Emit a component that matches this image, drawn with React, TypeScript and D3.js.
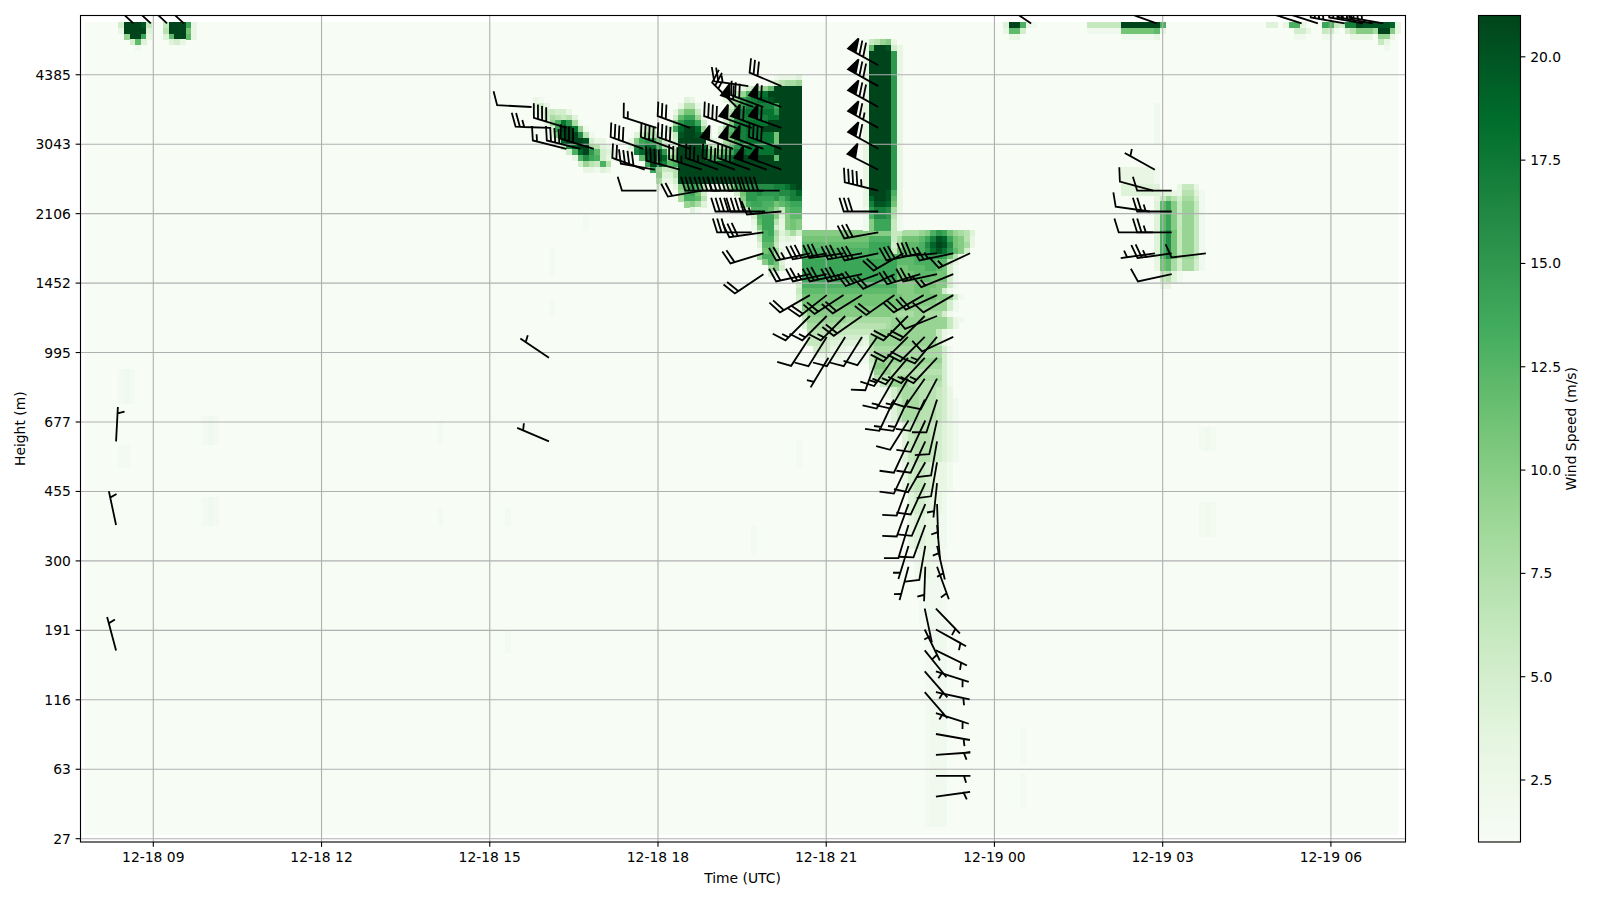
import React from "react";
import * as d3 from "d3";

// ---- axis labels ----
const heightTicks = ["27","63","116","191","300","455","677","995","1452","2106","3043","4385"];
const timeTicks = ["12-18 09","12-18 12","12-18 15","12-18 18","12-18 21","12-19 00","12-19 03","12-19 06"];
const colorTicks = [2.5,5,7.5,10,12.5,15,17.5,20];

// ---- wind speed (m/s): [firstRow, lastRow, firstStep, base-36 values; "x*n" repeats x; 1 means 1.5 m/s] ----
const topLeftSpeed = [
 [0,0,6,"5lllk6"],[0,0,14,"6llle3"],[1,1,6,"3llll4"],[1,1,14,"7lllb3"],[2,2,7,"9lle3"],[2,2,14,"4cllc3"],
 [3,3,8,"5c4"],[3,3,15,"453"],[4,4,9,"2"],
];
const topRightSpeed = [
 [0,0,164,"4lld32"],[1,1,164,"3cc5"],[2,2,165,"33"],
 [0,0,179,"6*6,l*7,d"],[1,1,179,"2*6,b*6,c3"],[2,2,185,"2*6,3"],
 [0,0,211,"44.3dd3"],[1,1,216,"553"],[2,2,216,"22"],
 [0,0,221,"ed65hhlk"],[0,0,229,"kkkkj3"],[0,0,233,"j3"],
 [1,1,221,"652.57aaa8lla3"],[2,2,221,"22...3333.993"],[3,3,231,"63"],[4,4,232,"2"],
];
const evening15hSpeed = [
 [13,13,80,"32"],[14,14,80,"453"],[15,15,80,"2456553"],[16,16,81,"3587674"],[17,17,82,"39dif82"],
 [18,18,83,"5elli92"],[19,19,83,"4bkllg72"],[20,20,84,"5jlllk533"],[21,21,85,"6gjll8775"],
 [22,22,86,"5djlfce73"],[23,23,87,"3dgedg83"],[24,24,88,"5976d7"],[25,25,89,"33243"],
];
const clusterSpeed = [
 [9,9,123,"23334"],[10,10,122,"357889"],[11,11,117,"35689cl*5"],[12,12,115,"369dghil*6"],
 [13,13,114,"369eghijkl*5"],[13,13,107,"43"],[14,14,115,"5afh*5,el*4"],[14,14,106,"3773"],
 [15,15,115,"7dhi*5,fl*4"],[15,15,105,"38bb6"],[16,16,114,"49fh*5,iil*4"],[16,16,105,"5cee93"],
 [17,17,114,"5aghi*4,l*6"],[17,17,105,"9fhhe5"],[18,18,113,"48cghiiil*7"],[18,18,99,"466"],[18,18,104,"5ejllj93"],
 [19,19,113,"5adhhi*5,bl*4"],[19,19,98,"46975236kllkh4"],[20,20,97,"3aefeb535l*5,433"],[20,20,114,"8aehi*5,bl*4"],
 [21,21,92,"43"],[21,21,97,"4ghjie745l*4,j866"],[21,21,114,"9cfhi*5,l*5"],[22,22,92,"54"],[22,22,97,"3hjllkf68l*5,caa"],
 [22,22,114,"cehji*5,l*5"],[23,23,92,"53"],[23,23,99,"cklljaal*5,dde"],[23,23,114,"gjl*7,cl*4"],[24,24,100,"eljhcdl*22"],
 [25,25,101,"e9667l*22"],[26,26,102,"a447l*22"],[27,27,102,"8335l*22"],[28,28,102,"4"],
 [28,28,105,"3adfd7"],[28,28,111,"33469effgggghhikl"],[29,29,106,"9deb5"],[29,29,116,"5bffgfffgghj"],
 [30,30,106,"8ddc7"],[30,30,116,"2affeeefdfhh"],[31,31,107,"9a84"],[31,31,117,"8deeddbcdee"],
 [32,32,108,"42"],[32,32,118,"6dddc96cdd"],[33,33,119,"5deea4acc"],[34,34,119,"3cee73aba"],[35,35,119,"2aee53aba"],
 [36,36,120,"7de84685"],[37,37,120,"6dd7343"],[38,38,120,"4cc622"],[39,39,120,"2bc83"],[40,40,120,"9dd83"],
 [41,41,121,"adb4"],[42,42,122,"8a5"],[43,43,122,"43"],
];
const towerSpeed = [
 [3,3,139,"2679a3"],[4,4,139,"3cllk53"],[5,28,139,"3llllf3"],[29,29,139,"3lllkd3"],[30,30,139,"3jllkc3"],
 [31,31,139,"3hkkjb3"],[32,32,139,"2fhhg83"],[33,33,139,"2dggf72"],[34,35,139,"2aeee62"],
];
const blockSpeed = [
 [36,36,128,"a*16,668889adfeb9874"],[37,37,128,"b*12,d*4,68bbbcehkjeba73"],[38,38,128,"c*12,e*4,58cccdgjlkgba83"],
 [39,39,128,"d*12,e*4,6bcccdfikifca5"],[40,40,128,"d*17,cccdefffeb73"],[41,41,128,"e*17,cccddddcc63"],
 [42,42,128,"e*17,bbcccddcb52"],[43,43,128,"e*17,bbbccccbb52"],[44,44,128,"e*17,bbbcccbbb52"],
 [45,45,127,"5d*17,aaabbbbaa52"],[46,46,127,"6c*17,aaabbbaa52"],[47,47,127,"5b*18,aaaabbaa952"],
 [48,48,127,"4b*18,aaaaaa9952"],[49,49,127,"3a*18,9999999952"],[50,50,128,"7a*15,988899888,52"],
 [51,51,128,"69*7,8*8,9*10,632"],[52,52,128,"48*6,7*8,89*10,63"],[53,53,129,"7*5,6*7,89*10,632"],
 [54,54,129,"6*4,5*6,489*11,63"],[55,55,129,"6*3,5,4*6,389*11,63"],[56,56,130,"5*3,3*3,2*4,78*12,52"],
 [57,57,130,"3*3,3*2,2*5,69998*9,52"],[58,58,131,"2*9,69*12,52"],[59,59,140,"5aa8*10,52"],[60,60,140,"49997*9,52"],
 [61,61,140,"37778*9,52"],[62,62,141,"3679997*6,52"],[63,64,142,"2357888777653"],[65,68,143,"2468887776532"],
];
const plumeSpeed = [
 [69,75,146,"4677765432"],[76,80,146,"356654332"],[81,84,147,"4554332"],[85,90,147,"3443322"],
 [91,95,148,"233221"],[96,103,149,"12221"],[104,138,150,"1222"],
];
const faintSpeed = [
 [60,65,6,"121"],[73,76,6,"11"],[68,72,21,"121"],[82,86,21,"121"],[70,73,199,"121"],[83,88,199,"121"],
 [122,127,167,"1"],[130,135,167,"1"],[87,91,119,"1"],[39,43,83,"1"],[48,50,83,"1"],[69,72,63,"1"],[84,86,63,"1"],
 [84,86,75,"1"],[105,108,75,"1"],[33,35,89,"1"],[72,76,127,"1"],[14,20,191,"2"],
];
const lateSpeed = [
 [25,27,185,"3*6,2"],[28,29,185,"4*7"],[28,28,195,"3663"],[29,29,192,"44337742"],[30,30,191,"369758852"],
 [31,35,191,"4cea69962"],[36,40,191,"4dgb69962"],[41,42,191,"3bc858852"],[43,44,192,"6742"],[45,45,192,"33"],
];

// ---- wind barbs: [level, step, from-direction deg, speed kt] ----
const barbsLeft = [[17,5.6,3,5],[13,5.6,348,5],[7,5.6,345,5]];
const barbsTop = [
 [37,8.7,313,40],[37,11.8,313,40],[37,14.7,313,40],[37,17.7,313,40],
 [37,169,304,40],[37,191.4,290,40],[37,217.3,288,40],[37,220.2,288,40],[37,225,280,40],[37,228.3,280,40],[37,230,280,40],[37,231.9,280,40],
];
const barbs15h = [
 [33,79.8,273,10],[32,83.1,272,25],[32,86.1,287,40],[31,90.9,287,40],[31,88.5,284,40],[31,86,284,15],
 [21,82.9,304,5],[17,82.9,293,5],
];
const barbsCluster = [
 [34,124.4,293,30],[34,118.5,278,25],
 [33,124.4,290,60],[33,121.2,290,30],[33,119.4,290,60],[33,116.4,315,25],
 [32,124.4,290,60],[32,121.2,290,60],[32,119.1,290,50],[32,116.4,290,40],[32,108.1,290,30],[32,102.1,288,15],
 [31,124.4,290,40],[31,121.2,290,50],[31,119.1,290,50],[31,115.8,290,50],[31,108.1,290,40],[31,105.1,290,40],[31,99.7,290,40],
 [30,124.4,290,50],[30,121.8,290,50],[30,118.8,290,40],[30,116.1,290,40],[30,113.1,290,35],[30,110.2,288,35],[30,106.3,285,40],[30,101.8,280,40],[30,100,290,20],
 [29,124.1,270,40],[29,121.2,270,40],[29,118.2,270,40],[29,115.8,270,40],[29,113.4,270,30],[29,110.2,260,20],[29,102.1,270,10],
 [28,124.4,265,15],[28,121.5,270,40],[28,118.8,270,40],
 [27,121.2,262,30],[27,119.1,270,30],
];
const barbsTower = [
 [35,141.7,299,70],[34,141.7,299,70],[33,141.7,299,70],[32,141.7,299,65],[31,141.7,299,60],[30,141.7,297,50],
 [29,141.7,284,45],[28,141.7,270,30],[27,141.7,260,30],
];
const barbsBlock = [
 [26,121.2,253,20],[26,129.5,258,25],[26,132.5,260,30],[26,135.5,262,30],[26,138.8,260,30],[26,141.7,258,30],[26,146.2,240,20],[26,149.2,258,30],[26,152.2,265,30],[26,155.1,258,25],[26,158.1,245,15],
 [25,121.2,236,20],[25,129.5,258,20],[25,132.5,258,25],[25,135.5,258,30],[25,138.8,258,30],[25,141.7,250,30],[25,144.6,245,20],[25,149.2,253,25],[25,152.2,258,25],[25,155.1,248,15],
 [24,129.5,240,20],[24,132.5,232,20],[24,135.5,237,20],[24,138.8,238,20],[24,144.6,235,20],[24,149.8,240,20],[24,152.2,245,20],[24,155.1,240,10],
 [23,129.5,225,15],[23,132.5,225,15],[23,135.8,225,15],[23,138.8,235,20],[23,147,225,20],[23,150,225,20],[23,152.2,248,10],
 [22,129.5,213,10],[22,132.5,212,10],[22,135.8,212,10],[22,138.8,212,10],[22,141.5,215,10],[22,147,225,20],[22,150,225,20],[22,152.2,220,15],[22,155.1,245,10],
 [21,132.8,211,5],[21,141.5,200,10],[21,144.5,215,15],[21,147,220,15],[21,150,223,15],[21,152.2,223,15],
 [20,144.5,210,15],[20,147,210,15],[20,150,215,10],[20,152.2,208,10],
 [19,144.5,205,15],[19,147,205,15],[19,150,205,10],[19,152.2,198,10],
 [18,147.1,212,10],[18,150.1,205,10],[18,152.2,193,10],
];
const barbsPlume = [
 [17,147.1,205,10],[17,150.1,205,10],[17,152.2,190,10],
 [16,147.1,205,10],[16,150.1,210,10],[16,152.2,190,10],
 [15,147.1,200,10],[15,150.1,205,10],[15,152.2,186,5],
 [14,147.1,200,10],[14,150.1,203,10],[14,152.2,178,5],
 [13,147.1,197,10],[13,150.1,200,10],[13,152.2,175,5],
 [12,147.1,197,5],[12,150.1,190,10],[12,152.2,167,5],
 [11,147.1,195,5],[11,150.1,182,5],[11,152.2,160,5],
 [9,150,168,5],[9,152,136,5],[8,150,154,5],[8,152,119,5],[7,150,141,5],[7,152,116,5],[6,150,139,5],[6,152,108,5],[5,150,139,5],[5,152,102,5],
 [4,152,108,5],[3,152,100,5],[2,152,86,5],[1,152,90,5],[0,152,82,5],
];
const barbsLate = [
 [30,191.1,299,5],[29,194.1,270,10],[29,190.8,285,10],[28,194.1,270,25],[28,190.2,278,10],[27,194.1,270,25],[27,190.8,270,10],
 [26,200.2,263,10],[26,194.1,262,25],[26,191.1,262,5],[25,194.1,258,10],
];

const W = 1600, H = 900;
const axL = 80.5, axR = 1405.5, axT = 15.5, axB = 842;
const cbL = 1478.5, cbR = 1520.5;

const stepX = d3.scaleLinear().domain([0, 234.6]).range([84.7, 1398.5]);
const rowY = d3.scaleLinear().domain([0, 140.47]).range([22, 835]);
const levelY = d3.scaleLinear().domain([0, 37]).range([796.7, 23.4]);
const colorDomain = d3.range(9).map((i) => 1 + (i * 20) / 8);
const color = d3.scaleLinear<string>().domain(colorDomain).range(d3.schemeGreens[9]).clamp(true);
const cbY = d3.scaleLinear().domain([1, 21]).range([842, 15.5]);

const expand = (s: string) => s.replace(/(.)\*(\d+),?/g, (_, c, n) => c.repeat(+n)).replace(/,/g, "");
const speedOf = (ch: string) => { const v = parseInt(ch, 36); return v === 1 ? 1.5 : v; };

const allSpeed = [...topLeftSpeed, ...topRightSpeed, ...lateSpeed, ...faintSpeed, ...plumeSpeed, ...blockSpeed, ...evening15hSpeed, ...clusterSpeed, ...towerSpeed] as [number, number, number, string][];
const cells: { r: number; c: number; v: number }[] = [];
allSpeed.forEach(([r0, r1, c0, s]) => {
  const str = expand(s);
  for (let r = r0; r <= r1; r++) {
    for (let i = 0; i < str.length; i++) {
      if (str[i] === ".") continue;
      cells.push({ r, c: c0 + i, v: speedOf(str[i]) });
    }
  }
});

const allBarbs = [...barbsLeft, ...barbsTop, ...barbs15h, ...barbsCluster, ...barbsTower, ...barbsBlock, ...barbsPlume, ...barbsLate];

const L = 34.5, SP = L * 0.125, HT = L * 0.4, WD = L * 0.25;
function barbPath(x: number, y: number, az: number, speed: number) {
  const a = (az * Math.PI) / 180;
  const ux = Math.sin(a), uy = -Math.cos(a); // along staff, outward
  const rx = Math.cos(a), ry = Math.sin(a); // right of staff
  const pt = (h: number, o: number) => `${(x + rx * h + ux * o).toFixed(2)},${(y + ry * h + uy * o).toFixed(2)}`;
  let s = speed;
  const nf = Math.floor(s / 50); s -= nf * 50;
  const nb = Math.floor(s / 10); s -= nb * 10;
  const half = s >= 5;
  const pts: string[] = [pt(0, 0)];
  let off = L;
  for (let i = 0; i < nf; i++) {
    if (off !== L) off += SP / 2;
    pts.push(pt(0, off), pt(HT, off - WD / 2), pt(0, off - WD));
    off -= WD + SP;
  }
  for (let i = 0; i < nb; i++) {
    pts.push(pt(0, off), pt(HT, off + WD / 2), pt(0, off));
    off -= SP;
  }
  if (half) {
    if (off === L) { pts.push(pt(0, off)); off -= 1.5 * SP; }
    pts.push(pt(0, off), pt(HT / 2, off + WD / 4), pt(0, off));
  }
  return "M" + pts.join("L") + "Z";
}

const font = "'DejaVu Sans', sans-serif";
const FS = 13.89;

export default function App() {
  const threeHourSteps = 30.04;
  const tx = timeTicks.map((t, i) => ({ t, x: stepX(12.25 + i * threeHourSteps) }));
  const ty = heightTicks.map((t, i) => ({ t, y: 838.7 - i * 69.45 }));
  const stops = colorDomain.map((v) => ({ o: (v - 1) / 20, c: color(v) }));
  return (
    <svg width={W} height={H} style={{ position: "absolute", left: 0, top: 0, background: "#fff" }} fontFamily={font} fontSize={FS}>
      <defs>
        <clipPath id="ax"><rect x={axL} y={axT} width={axR - axL} height={axB - axT} /></clipPath>
        <linearGradient id="cb" x1="0" y1="1" x2="0" y2="0">
          {stops.map((s, i) => <stop key={i} offset={s.o} stopColor={s.c} />)}
        </linearGradient>
      </defs>
      <rect x={84.7} y={22} width={1398.5 - 84.7} height={835 - 22} fill={color(1)} />
      <g shapeRendering="crispEdges">
        {cells.map((d, i) => (
          <rect key={i} x={stepX(d.c)} y={rowY(d.r)} width={stepX(d.c + 1) - stepX(d.c) + 0.3} height={rowY(d.r + 1) - rowY(d.r) + 0.3} fill={color(d.v)} />
        ))}
      </g>
      <g stroke="#b0b0b0" strokeWidth={1.11}>
        {tx.map((d) => <line key={d.t} x1={d.x} x2={d.x} y1={axT} y2={axB} />)}
        {ty.map((d) => <line key={d.t} x1={axL} x2={axR} y1={d.y} y2={d.y} />)}
      </g>
      <g clipPath="url(#ax)">
        {allBarbs.map((b, i) => (
          <path key={i} d={barbPath(stepX(b[1]), levelY(b[0]), b[2], b[3])} fill="#000" stroke="#000" strokeWidth={1.8} strokeLinejoin="miter" strokeMiterlimit={2} />
        ))}
      </g>
      <rect x={axL} y={axT} width={axR - axL} height={axB - axT} fill="none" stroke="#000" strokeWidth={1.11} />
      {tx.map((d) => (
        <g key={d.t}>
          <line x1={d.x} x2={d.x} y1={axB} y2={axB + 4.86} stroke="#000" strokeWidth={1.11} />
          <text x={d.x} y={axB + 20} textAnchor="middle">{d.t}</text>
        </g>
      ))}
      {ty.map((d) => (
        <g key={d.t}>
          <line x1={axL - 4.86} x2={axL} y1={d.y} y2={d.y} stroke="#000" strokeWidth={1.11} />
          <text x={axL - 9.7} y={d.y + 5} textAnchor="end">{d.t}</text>
        </g>
      ))}
      <text x={742.5} y={883} textAnchor="middle">Time (UTC)</text>
      <text transform="translate(25,428.7) rotate(-90)" textAnchor="middle">Height (m)</text>
      <rect x={cbL} y={axT} width={cbR - cbL} height={axB - axT} fill="url(#cb)" stroke="#000" strokeWidth={1.11} />
      {colorTicks.map((v) => (
        <g key={v}>
          <line x1={cbR} x2={cbR + 4.86} y1={cbY(v)} y2={cbY(v)} stroke="#000" strokeWidth={1.11} />
          <text x={cbR + 9.7} y={cbY(v) + 5}>{v.toFixed(1)}</text>
        </g>
      ))}
      <text transform="translate(1576,428.7) rotate(-90)" textAnchor="middle">Wind Speed (m/s)</text>
    </svg>
  );
}
